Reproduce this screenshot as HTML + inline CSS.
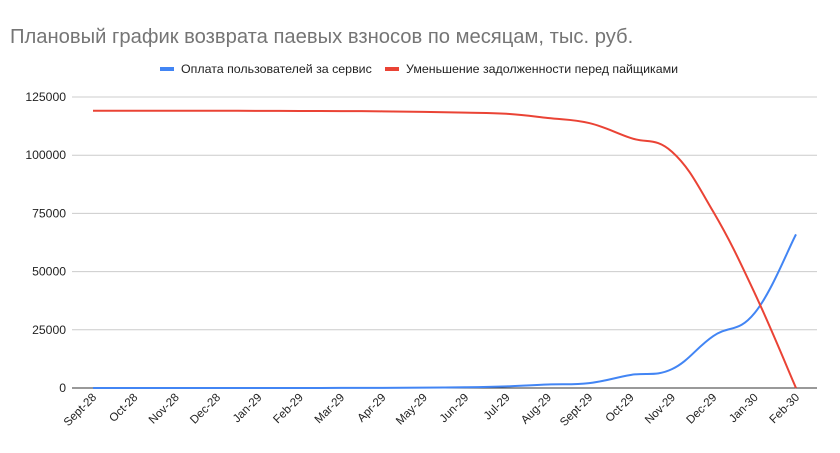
<!DOCTYPE html>
<html><head><meta charset="utf-8">
<style>
body{margin:0;background:#fff;}
svg{display:block;font-family:"Liberation Sans",Arial,sans-serif;}
</style></head>
<body>
<svg id="chart" width="840" height="453" viewBox="0 0 840 453">
<rect width="840" height="453" fill="#fff"/>
<text x="10" y="43" font-size="20.2" fill="#757575">Плановый график возврата паевых взносов по месяцам, тыс. руб.</text>
<g>
<g>
<rect x="160" y="67" width="14" height="4" fill="#4285f4"/>
<text x="181" y="73" font-size="12.4" fill="#222">Оплата пользователей за сервис</text>
</g>
<g>
<rect x="385" y="67" width="14" height="4" fill="#ea4335"/>
<text x="406" y="73" font-size="12.4" fill="#222">Уменьшение задолженности перед пайщиками</text>
</g>
</g>
<g id="grid"></g>
<g id="xlabels"></g>
<g id="series"></g>
</svg>
<script>
const categories=["Sept-28","Oct-28","Nov-28","Dec-28","Jan-29","Feb-29","Mar-29","Apr-29","May-29","Jun-29","Jul-29","Aug-29","Sept-29","Oct-29","Nov-29","Dec-29","Jan-30","Feb-30"];
const payments=[0,0,0,0,0,0,50,80,150,300,700,1500,2100,5600,8100,22300,32200,66000];
const debt=[119100,119100,119100,119100,119050,119000,118950,118850,118600,118300,117800,116000,113800,107400,101500,75700,40800,0];
const yTicks=[0,25000,50000,75000,100000,125000];

const NS="http://www.w3.org/2000/svg";
const x0=93,x1=796,yBase=388,yTop=97,yMax=125000;
const xPos=i=>x0+i*(x1-x0)/(categories.length-1);
const yPos=v=>yBase-(v/yMax)*(yBase-yTop);
function mk(tag,attrs,parent){const e=document.createElementNS(NS,tag);for(const k in attrs)e.setAttribute(k,attrs[k]);parent.appendChild(e);return e;}

const grid=document.getElementById('grid');
yTicks.forEach(t=>{
  const l=mk('line',{x1:72,x2:817,y1:yPos(t),y2:yPos(t),stroke:t===0?'#333':'#ccc','stroke-width':1},grid);
  
  
  const tx=mk('text',{x:66,y:yPos(t)+4,'text-anchor':'end','font-size':12.2,fill:'#222'},grid);
  tx.textContent=t;
  
  
});
const xl=document.getElementById('xlabels');
categories.forEach((c,i)=>{
  const x=xPos(i)+4,y=398;
  const t=mk('text',{x:x,y:y,'text-anchor':'end','font-size':11.6,fill:'#222',transform:`rotate(-45 ${x} ${y})`},xl);
  t.textContent=c;
  
  
});
function smoothPath(vals){
  const p=vals.map((v,i)=>[xPos(i),yPos(v)]);
  let d=`M${p[0][0]},${p[0][1]}`;
  const k=0.2;
  for(let i=0;i<p.length-1;i++){
    const a=p[i-1]||p[i],b=p[i],c=p[i+1],e=p[i+2]||c;
    const c1=[b[0]+(c[0]-a[0])*k,b[1]+(c[1]-a[1])*k];
    const c2=[c[0]-(e[0]-b[0])*k,c[1]-(e[1]-b[1])*k];
    d+=` C${c1[0]},${c1[1]} ${c2[0]},${c2[1]} ${c[0]},${c[1]}`;
  }
  return d;
}
const sg=document.getElementById('series');
const pb=mk('path',{d:smoothPath(payments),fill:'none',stroke:'#4285f4','stroke-width':2},sg);


const pr=mk('path',{d:smoothPath(debt),fill:'none',stroke:'#ea4335','stroke-width':2},sg);


</script>
</body></html>
